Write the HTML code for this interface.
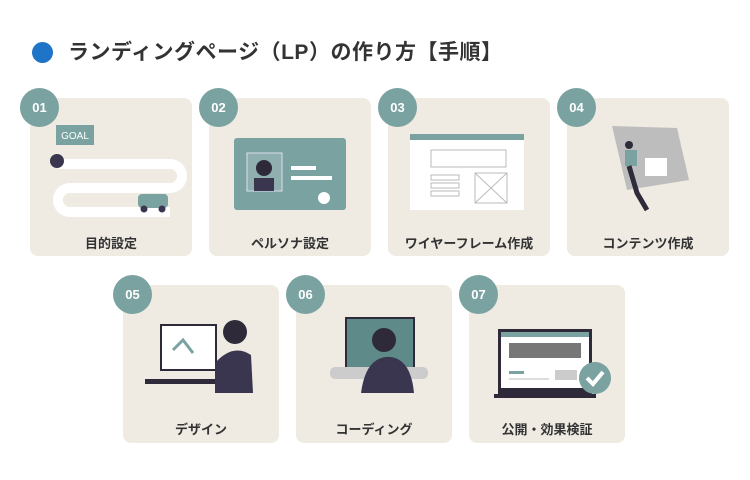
<!DOCTYPE html>
<html><head><meta charset="utf-8"><style>
body{margin:0;width:750px;height:480px;background:#fff;position:relative;overflow:hidden;font-family:"Liberation Sans","Noto Sans CJK JP",sans-serif;color:#333}
.t{position:absolute;left:68px;top:36px;font-size:21px;font-weight:bold;letter-spacing:0.5px;color:#333}
.dot{position:absolute;left:32px;top:42px;width:21px;height:21px;border-radius:50%;background:#1e74c6}
.c{position:absolute;background:#efebe3;border-radius:8px}
.n{position:absolute;width:39px;height:39px;border-radius:50%;background:#79a2a1;color:#fff;font-size:13px;font-weight:bold;text-align:center;line-height:39px}
.l{position:absolute;left:0;right:0;text-align:center;font-size:13px;font-weight:bold;color:#333}
svg{position:absolute}
</style></head><body>
<div class="dot"></div>
<div class="t">ランディングページ（LP）の作り方【手順】</div>

<div class="c" style="left:30px;top:98px;width:162px;height:158px"><div class="l" style="top:135px">目的設定</div>
<svg style="left:0;top:0" width="162" height="158"><rect x="26" y="27" width="38" height="20" fill="#79a2a1"/><text x="45" y="41" font-size="10" fill="#fff" text-anchor="middle" font-family="Liberation Sans">GOAL</text>
<path d="M28 66 H140 a12 12 0 0 1 0 24 H40 a12 12 0 0 0 0 24 H140" stroke="#fff" stroke-width="10" fill="none"/>
<circle cx="27" cy="63" r="7" fill="#3a3650"/><rect x="108" y="96" width="30" height="14" rx="4" fill="#79a2a1"/><circle cx="114" cy="111" r="3.5" fill="#3a3650"/><circle cx="132" cy="111" r="3.5" fill="#3a3650"/></svg></div>

<div class="c" style="left:209px;top:98px;width:162px;height:158px"><div class="l" style="top:135px">ペルソナ設定</div>
<svg width="162" height="158"><rect x="25" y="40" width="112" height="72" rx="3" fill="#79a2a1"/><rect x="38" y="55" width="35" height="38" fill="#8fb0ae" stroke="#dde" /><circle cx="55" cy="70" r="8" fill="#2e2a3a"/><rect x="45" y="80" width="20" height="13" fill="#3a3650"/><rect x="82" y="68" width="25" height="4" fill="#fff"/><rect x="82" y="78" width="41" height="4" fill="#fff"/><circle cx="115" cy="100" r="6" fill="#fff"/></svg></div>

<div class="c" style="left:388px;top:98px;width:162px;height:158px"><div class="l" style="top:135px">ワイヤーフレーム作成</div>
<svg width="162" height="158"><rect x="22" y="36" width="114" height="76" fill="#fff"/><rect x="22" y="36" width="114" height="6" fill="#79a2a1"/><rect x="43" y="52" width="75" height="17" fill="none" stroke="#bbb"/><rect x="43" y="77" width="28" height="5" fill="none" stroke="#bbb"/><rect x="43" y="85" width="28" height="5" fill="none" stroke="#bbb"/><rect x="43" y="93" width="28" height="5" fill="none" stroke="#bbb"/><rect x="87" y="75" width="32" height="30" fill="none" stroke="#bbb"/><path d="M87 75 L119 105 M119 75 L87 105" stroke="#bbb"/></svg></div>

<div class="c" style="left:567px;top:98px;width:162px;height:158px"><div class="l" style="top:135px">コンテンツ作成</div>
<svg width="162" height="158"><path d="M45 28 L110 30 L122 82 L60 92 Z" fill="#bdbdbd"/><rect x="78" y="60" width="22" height="18" fill="#fff"/><circle cx="62" cy="47" r="4" fill="#2e2a3a"/><rect x="58" y="52" width="12" height="16" fill="#79a2a1"/><path d="M62 68 L70 95 L80 112" stroke="#2e2a3a" stroke-width="5" fill="none"/></svg></div>

<div class="c" style="left:123px;top:285px;width:156px;height:158px"><div class="l" style="top:134px">デザイン</div>
<svg width="156" height="158"><rect x="38" y="40" width="55" height="45" fill="#fff" stroke="#2e2a3a" stroke-width="2"/><path d="M50 65 L60 55 L70 68" stroke="#79a2a1" stroke-width="3" fill="none"/><rect x="22" y="94" width="90" height="5" fill="#2e2a3a"/><circle cx="112" cy="47" r="12" fill="#2e2a3a"/><path d="M92 78 Q110 58 128 70 L130 108 L92 108Z" fill="#3a3650"/></svg></div>

<div class="c" style="left:296px;top:285px;width:156px;height:158px"><div class="l" style="top:134px">コーディング</div>
<svg width="156" height="158"><rect x="50" y="33" width="68" height="50" fill="#5e8a89" stroke="#2e2a3a" stroke-width="2"/><rect x="34" y="82" width="98" height="12" rx="5" fill="#ccc"/><circle cx="88" cy="55" r="12" fill="#2e2a3a"/><path d="M65 108 Q70 70 95 72 Q115 75 118 108Z" fill="#3a3650"/></svg></div>

<div class="c" style="left:469px;top:285px;width:156px;height:158px"><div class="l" style="top:134px">公開・効果検証</div>
<svg width="156" height="158"><rect x="29" y="44" width="94" height="65" fill="#2e2a3a"/><rect x="32" y="47" width="88" height="56" fill="#fff"/><rect x="32" y="47" width="88" height="5" fill="#79a2a1"/><rect x="40" y="58" width="72" height="15" fill="#777"/><rect x="40" y="86" width="15" height="3" fill="#79a2a1"/><rect x="40" y="93" width="40" height="2" fill="#ddd"/><rect x="86" y="85" width="22" height="10" fill="#ccc"/><rect x="25" y="109" width="102" height="4" fill="#2e2a3a"/><circle cx="126" cy="93" r="16" fill="#79a2a1"/><path d="M118 93 L124 99 L134 87" stroke="#fff" stroke-width="4" fill="none"/></svg></div>

<div class="n" style="left:20px;top:88px">01</div>
<div class="n" style="left:199px;top:88px">02</div>
<div class="n" style="left:378px;top:88px">03</div>
<div class="n" style="left:557px;top:88px">04</div>
<div class="n" style="left:113px;top:275px">05</div>
<div class="n" style="left:286px;top:275px">06</div>
<div class="n" style="left:459px;top:275px">07</div>
</body></html>
